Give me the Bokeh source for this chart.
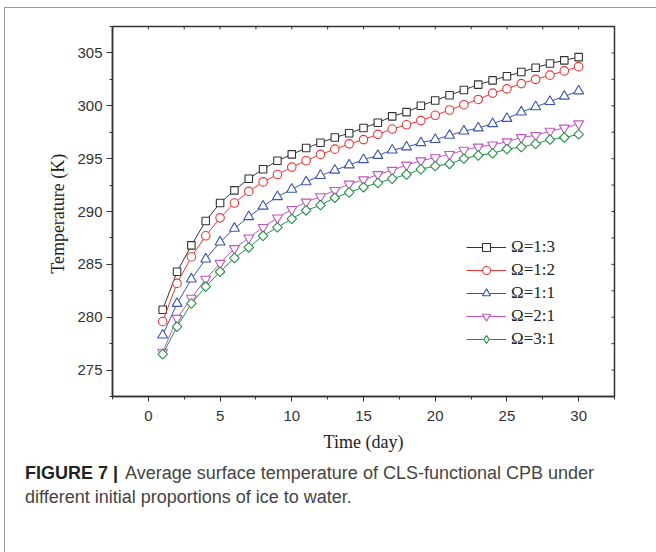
import numpy as np
from bokeh.plotting import figure
from bokeh.layouts import column
from bokeh.models import (Range1d, LinearAxis, SingleIntervalTicker, Legend, LegendItem,
                          Div)
from bokeh.embed import file_html
from bokeh.resources import INLINE

days = list(range(1, 31))
labels = ["Ω=1:3", "Ω=1:2", "Ω=1:1", "Ω=2:1", "Ω=3:1"]
caption_bold = "FIGURE 7 |"
caption_line1 = "Average surface temperature of CLS-functional CPB under"
caption_line2 = "different initial proportions of ice to water."

t_1_3 = [280.7, 284.3, 286.8, 289.1, 290.8, 292.0, 293.1, 294.0, 294.8, 295.4,
         296.0, 296.5, 297.0, 297.4, 297.9, 298.4, 299.0, 299.4, 300.0, 300.5,
         301.0, 301.5, 302.0, 302.4, 302.8, 303.2, 303.6, 304.0, 304.3, 304.6]
t_1_2 = [279.6, 283.2, 285.7, 287.7, 289.4, 290.8, 291.9, 292.8, 293.5, 294.2,
         294.8, 295.4, 295.9, 296.4, 296.8, 297.3, 297.8, 298.2, 298.6, 299.1,
         299.6, 300.1, 300.6, 301.2, 301.6, 302.1, 302.5, 302.9, 303.3, 303.7]
t_1_1 = [278.3, 281.3, 283.6, 285.5, 287.1, 288.4, 289.5, 290.5, 291.4, 292.1,
         292.8, 293.4, 293.9, 294.4, 294.9, 295.3, 295.8, 296.1, 296.5, 296.8,
         297.2, 297.6, 297.9, 298.3, 298.8, 299.4, 299.9, 300.4, 300.9, 301.4]
t_2_1 = [276.7, 279.9, 281.8, 283.6, 285.1, 286.5, 287.5, 288.5, 289.4, 290.2,
         290.9, 291.4, 292.0, 292.6, 293.0, 293.5, 293.9, 294.4, 294.8, 295.1,
         295.4, 295.8, 296.1, 296.3, 296.6, 297.0, 297.2, 297.6, 297.9, 298.3]
t_3_1 = [276.5, 279.1, 281.3, 282.9, 284.3, 285.6, 286.6, 287.7, 288.5, 289.3,
         290.1, 290.6, 291.3, 291.8, 292.3, 292.7, 293.1, 293.5, 294.0, 294.3,
         294.5, 295.0, 295.3, 295.5, 295.9, 296.1, 296.4, 296.8, 297.0, 297.3]

series = [t_1_3, t_1_2, t_1_1, t_2_1, t_3_1]
colors = ["#333333", "#f03535", "#3a55b0", "#c055c0", "#259045"]
markers = ["square", "circle", "triangle", "inverted_triangle", "square"]
sizes = [7.5, 8.5, 10, 10, 6.8]
angles = [0, 0, 0, 0, np.pi / 4]

X0, Y0 = 5, 8           # inner origin of the card (after its 1px border)
W, H1 = 656 - X0, 447
H2 = 552 - Y0 - H1
L, R, T, B = 112 - X0, 614 - X0, 26 - Y0, 396 - Y0

XMIN, XMAX, YMIN, YMAX = -2.5, 32.5, 272.5, 307.5

p = figure(width=W, height=H1, output_backend="svg", toolbar_location=None,
           x_range=Range1d(XMIN, XMAX), y_range=Range1d(YMIN, YMAX),
           min_border_left=L, min_border_right=W - R, min_border_top=T,
           min_border_bottom=H1 - B, x_axis_location=None, y_axis_location=None)
p.outline_line_color = "#333333"
p.outline_line_width = 1.5
p.xgrid.visible = False
p.ygrid.visible = False
p.background_fill_color = "white"
p.border_fill_color = "white"

serif = "Liberation Serif"
sans = "Liberation Sans"
axis_col = "#333333"


def make_axis(tout):
    ax = LinearAxis(ticker=SingleIntervalTicker(interval=5, num_minor_ticks=2))
    ax.axis_line_color = axis_col
    ax.axis_line_width = 1.5
    ax.major_tick_line_color = axis_col
    ax.minor_tick_line_color = axis_col
    ax.major_tick_in = 0
    ax.major_tick_out = tout
    ax.minor_tick_in = 0
    ax.minor_tick_out = 3
    ax.major_label_text_font = sans
    ax.major_label_text_font_size = "15px"
    ax.major_label_text_color = "#333333"
    ax.axis_label_text_font = serif
    ax.axis_label_text_font_style = "normal"
    ax.axis_label_text_font_size = "18px"
    ax.axis_label_text_color = "#222222"
    return ax


xb = make_axis(5)
xb.major_label_standoff = 9
xb.axis_label = "Time (day)"
xb.axis_label_standoff = 8
p.add_layout(xb, "below")

yl = make_axis(6)
yl.major_label_standoff = 4
yl.axis_label = "Temperature  (K)"
yl.axis_label_standoff = 6
p.add_layout(yl, "left")

# mirror ticks on the top and right frame edges (inward, every 2.5)
xt = np.arange(XMIN, XMAX + 0.01, 2.5)
yt = np.arange(YMIN, YMAX + 0.01, 2.5)
p.scatter(xt, np.full(len(xt), YMAX), marker="dash", angle=np.pi / 2, size=6,
          line_color=axis_col, line_width=1)
p.scatter(np.full(len(yt), XMAX), yt, marker="dash", size=6,
          line_color=axis_col, line_width=1)

items = []
for i, (lab, ys, c, m, s, a) in enumerate(zip(labels, series, colors, markers,
                                               sizes, angles)):
    ln = p.line(days, ys, line_color=c, line_width=1)
    sc = p.scatter(days, ys, marker=m, size=s, angle=a, line_color=c,
                   fill_color="white", line_width=1.1)
    if a != 0:
        # legend-only proxy (NaN point, never drawn) so the key shows a diamond
        sc = p.scatter([np.nan], [np.nan], marker="diamond", size=s,
                       line_color=c, fill_color="white", line_width=1.1)
    items.append(LegendItem(label=lab, renderers=[ln, sc]))

leg = Legend(items=items, location=(354, 47), orientation="vertical")
leg.background_fill_alpha = 0
leg.border_line_color = None
leg.padding = 0
leg.margin = 0
leg.spacing = 3
leg.glyph_width = 40
leg.glyph_height = 20
leg.label_height = 20
leg.label_standoff = 5
leg.label_text_font = serif
leg.label_text_font_size = "17px"
leg.label_text_color = "#222222"
p.add_layout(leg, "center")

cap = Div(
    text=(f'<b style="color:#222222">{caption_bold}</b> '
          f'<span style="margin-left:2px">{caption_line1}</span>'
          f'<br>{caption_line2}'),
    width=W, height=H2,
    styles={"font-family": "'Liberation Sans', Arial, sans-serif",
            "font-size": "18px", "line-height": "24px", "color": "#444444",
            "padding-left": f"{20 - X0}px", "padding-top": "1px",
            "white-space": "nowrap", "box-sizing": "border-box",
            "background": "white"})

layout = column(p, cap, spacing=0, margin=(7, 0, 0, 4),
                styles={"border-top": "1px solid #9a9a9a",
                        "border-left": "1px solid #9a9a9a",
                        "background": "white"})

open("out.html", "w").write(file_html(layout, INLINE))
